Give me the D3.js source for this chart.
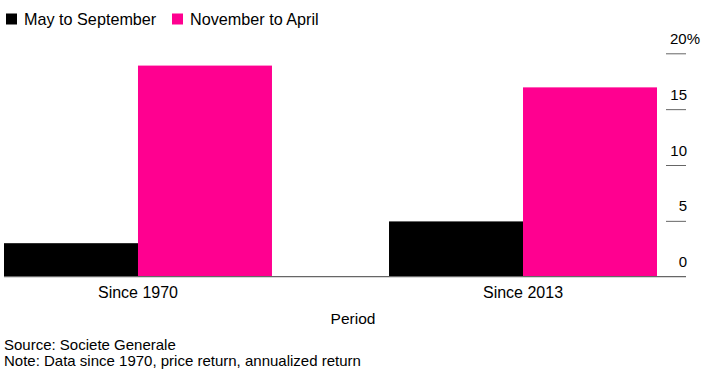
<!DOCTYPE html>
<html><head><meta charset="utf-8">
<script src="https://cdn.jsdelivr.net/npm/d3@7"></script>
<style>
html,body{margin:0;padding:0;background:#fff;}
svg{display:block;font-family:"Liberation Sans",Arial,Helvetica,sans-serif;}
</style></head>
<body>
<svg id="chart" width="709" height="374"></svg>
<script>
const categories = ["Since 1970", "Since 2013"];
const seriesNames = ["May to September", "November to April"];
const mayToSeptember = [3.0, 4.95];
const novemberToApril = [18.9, 16.95];
const seriesColors = ["#000000", "#ff0090"];
const yTicks = [0, 5, 10, 15, 20];

const svg = d3.select("#chart");
const fontSize = 15;

const x0 = d3.scaleBand().domain(categories).range([4, 657]).paddingInner(0.304).paddingOuter(0);
const x1 = d3.scaleBand().domain(seriesNames).range([0, x0.bandwidth()]).padding(0);
const y = d3.scaleLinear().domain([0, 20]).range([276.7, 53.3]);

const seriesValues = [mayToSeptember, novemberToApril];

// bars
seriesNames.forEach((s, si) => {
  svg.append("g").selectAll("rect")
    .data(categories.map((c, i) => ({c, v: seriesValues[si][i]})))
    .join("rect")
    .attr("x", d => x0(d.c) + x1(s))
    .attr("width", x1.bandwidth())
    .attr("y", d => y(d.v))
    .attr("height", d => y(0) - y(d.v))
    .attr("fill", seriesColors[si]);
});

// y axis on the right (short tick marks)
const yAxis = d3.axisRight(y).tickValues(yTicks).tickSize(0).tickFormat(d => d === 20 ? "20%" : d);
const gy = svg.append("g").attr("transform", "translate(686,0)").call(yAxis);
gy.select(".domain").remove();
gy.selectAll(".tick line").attr("x1", -20).attr("x2", 0).attr("stroke", "#666").attr("stroke-width", 1);
gy.selectAll(".tick text")
  .attr("x", 1).attr("dy", null).attr("y", -10)
  .attr("text-anchor", "end")
  .attr("fill", "#000")
  .style("font-size", fontSize + "px")
  .style("font-family", "'Liberation Sans',Arial,sans-serif");
gy.selectAll(".tick text").filter(d => d === 20).attr("x", 14);
gy.selectAll(".tick").filter(d => d === 0).select("line").remove();

// baseline
svg.append("line").attr("x1", 4).attr("x2", 686).attr("y1", y(0)).attr("y2", y(0))
  .attr("stroke", "#666").attr("stroke-width", 1.3);

// x axis labels
const xAxis = d3.axisBottom(x0).tickSize(0).tickPadding(0);
const gx = svg.append("g").attr("transform", `translate(0,${y(0)})`).call(xAxis);
gx.select(".domain").remove();
gx.selectAll(".tick text").attr("dy", null).attr("y", 21.5)
  .attr("fill", "#000").style("font-size", "16px")
  .style("font-family", "'Liberation Sans',Arial,sans-serif");

// axis title
svg.append("text").attr("x", 353).attr("y", 323.5).attr("text-anchor", "middle")
  .attr("font-size", 15.5).attr("fill", "#000").text("Period");

// legend
const legX = [6, 172];
seriesNames.forEach((s, i) => {
  svg.append("rect").attr("x", legX[i]).attr("y", 13.5).attr("width", 11).attr("height", 11).attr("fill", seriesColors[i]);
  svg.append("text").attr("x", legX[i] + 18).attr("y", 25).attr("font-size", 16.2).attr("fill", "#000").text(s);
});

// footer
svg.append("text").attr("x", 4).attr("y", 350).attr("font-size", fontSize).attr("fill", "#000").text("Source: Societe Generale");
svg.append("text").attr("x", 4).attr("y", 366).attr("font-size", fontSize).attr("fill", "#000").text("Note: Data since 1970, price return, annualized return");
</script>
</body></html>
